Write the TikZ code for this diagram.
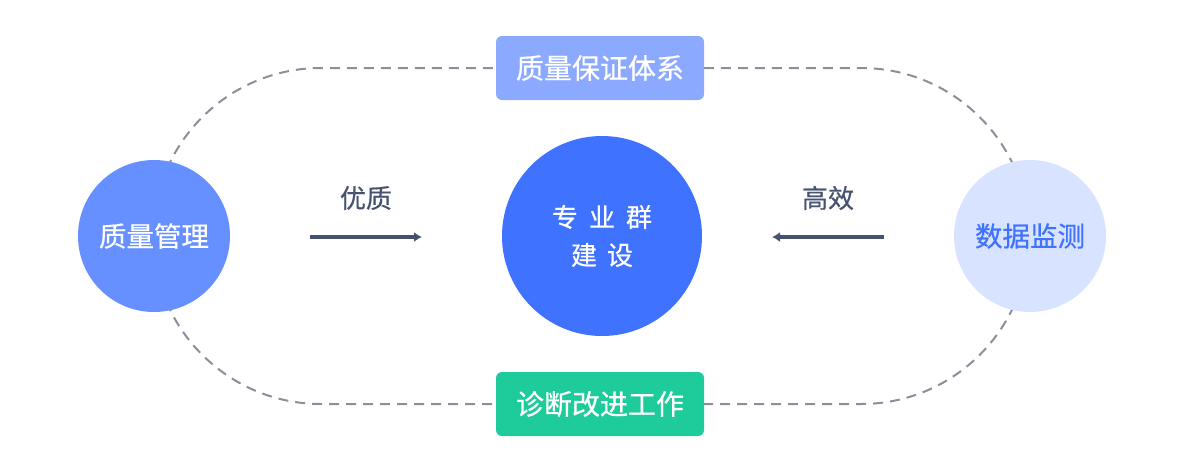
\documentclass[tikz,border=0pt]{standalone}
\usepackage{fontspec}
\setmainfont{Noto Sans CJK SC}[FakeBold=0.6]
\usetikzlibrary{arrows.meta,positioning,shapes.geometric}
\definecolor{loopgray}{HTML}{8A8F9C}
\definecolor{tagblue}{HTML}{8BA9FF}
\definecolor{taggreen}{HTML}{1ECB9B}
\definecolor{midblue}{HTML}{6690FF}
\definecolor{coreblue}{HTML}{3F72FF}
\definecolor{paleblue}{HTML}{D8E4FF}
\definecolor{inkgray}{HTML}{465270}

\begin{document}
\begin{tikzpicture}[
        x=1pt, y=-1pt,
        loopline/.style={draw=loopgray, line width=2pt, dash pattern=on 10pt off 7pt, rounded corners=168pt},
        tag/.style={rectangle, rounded corners=6pt, minimum width=208pt, minimum height=64pt, text=white, font=\fontsize{28}{32}\selectfont, inner sep=0pt},
        side/.style={circle, minimum size=152pt, inner sep=0pt, font=\fontsize{27.5}{30}\selectfont},
        core/.style={circle, fill=coreblue, minimum size=200pt, inner sep=0pt, text=white, align=center, font=\fontsize{26}{38}\selectfont},
        flow/.style={draw=inkgray, line width=4pt, -{Latex[length=8pt,width=10pt]}},
        flowlabel/.style={text=inkgray, font=\fontsize{26}{30}\selectfont, inner sep=0pt}
    ]
        \useasboundingbox (0,0) rectangle (1184,472);

        % Dashed loop
        \draw[loopline] (153,68) rectangle (1029,404);

        % Tags on the loop
        \node[tag, fill=tagblue] (qa) at (600,68) {质量保证体系};
        \node[tag, fill=taggreen] (diag) at (600,404) {诊断改进工作};

        % Circles
        \node[side, fill=midblue, text=white] (quality) at (154,236) {质量管理};
        \node[core] (group) at (602,236) {专\hspace{11pt}业\hspace{11pt}群\\建\hspace{10pt}设};
        \node[side, fill=paleblue, text=coreblue] (monitor) at (1030,236) {数据监测};

        % Arrows
        \coordinate (lstart) at (310,237);
        \coordinate (lend) at (422,237);
        \coordinate (rstart) at (884,237);
        \coordinate (rend) at (772,237);
        \draw[flow] (lstart) -- (lend);
        \draw[flow] (rstart) -- (rend);
        \node[flowlabel] (good) at (366,198) {优质};
        \node[flowlabel] (fast) at (828,198) {高效};
    \end{tikzpicture}
\end{document}
